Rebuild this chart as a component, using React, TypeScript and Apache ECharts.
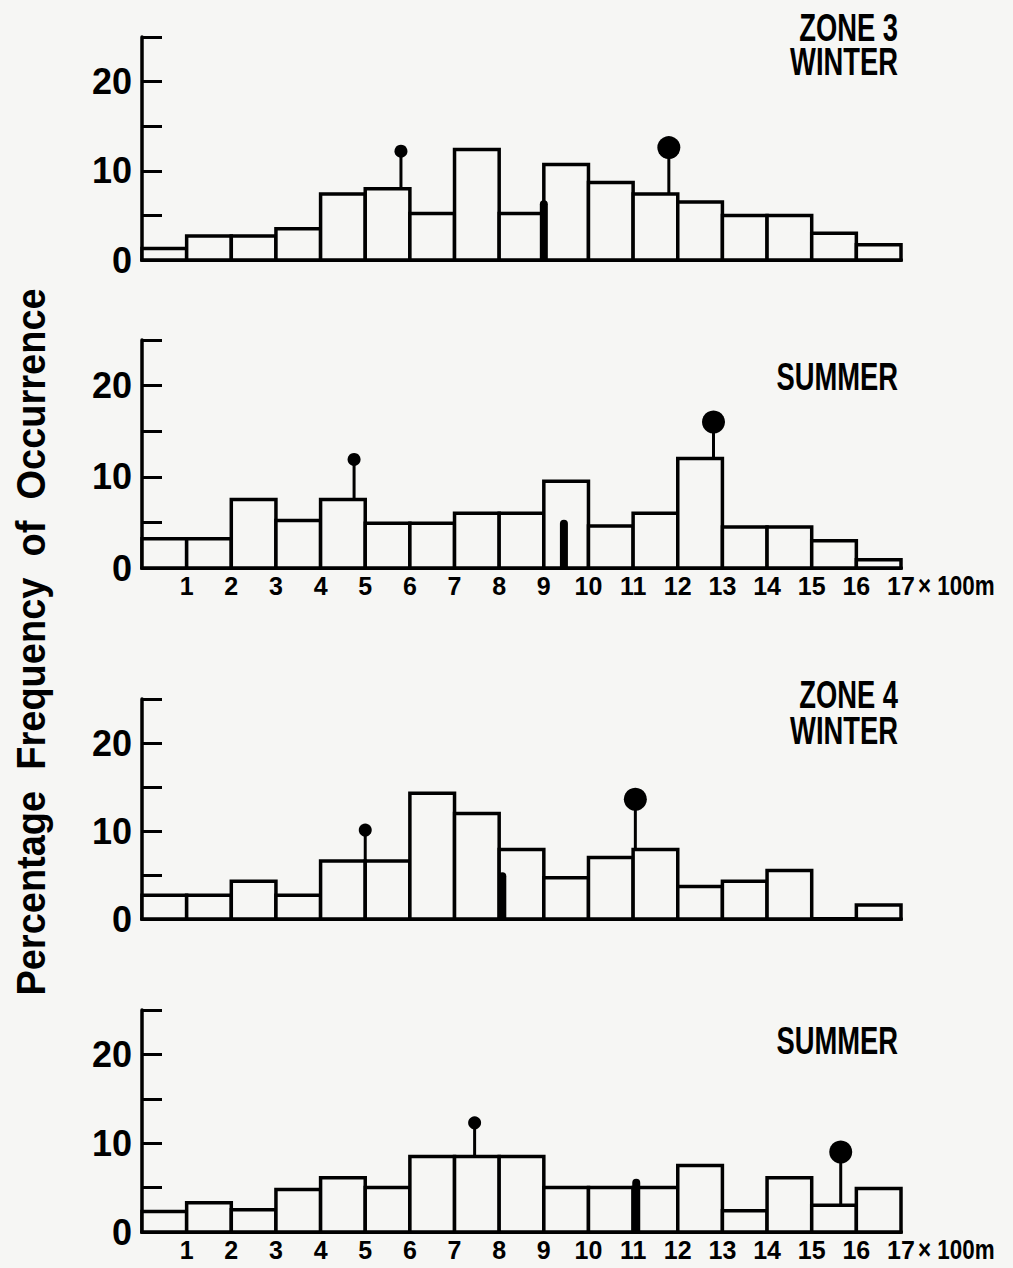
import React, { useEffect, useRef } from "react";
import * as echarts from "echarts";

// ---------- data ----------
const xTickLabels = ["1", "2", "3", "4", "5", "6", "7", "8", "9", "10", "11", "12", "13", "14", "15", "16", "17"];
const yTickLabels = ["0", "", "10", "", "20", ""]; // for 0,5,10,15,20,25

// Percentage frequency for each 100 m interval (0-1, 1-2, ... 16-17)
const zone3Winter = [1.3, 2.7, 2.7, 3.5, 7.4, 8.0, 5.2, 12.4, 5.2, 10.7, 8.7, 7.4, 6.5, 5.0, 5.0, 3.0, 1.7];
const zone3Summer = [3.2, 3.2, 7.5, 5.2, 7.5, 4.9, 4.9, 6.0, 6.0, 9.5, 4.6, 6.0, 12.0, 4.5, 4.5, 3.0, 0.9];
const zone4Winter = [2.7, 2.7, 4.3, 2.7, 6.6, 6.6, 14.3, 12.0, 7.9, 4.7, 7.0, 7.9, 3.7, 4.3, 5.5, 0, 1.6];
const zone4Summer = [2.3, 3.3, 2.5, 4.8, 6.1, 5.0, 8.5, 8.5, 8.5, 5.0, 5.0, 5.0, 7.5, 2.4, 6.1, 3.0, 4.9];

// pin markers: [x position (x100 m), value of the ball centre]
const smallPins = [[5.8, 12.2], [4.75, 11.9], [5.0, 10.1], [7.45, 12.3]];
const largePins = [[11.8, 12.6], [12.8, 16.0], [11.05, 13.6], [15.65, 9.0]];
// solid marks: [x position, height]
const solidMarks = [[9.0, 6.7], [9.45, 5.3], [8.07, 5.3], [11.07, 6.0]];

const panelTitles = [["ZONE 3", "WINTER"], ["SUMMER"], ["ZONE 4", "WINTER"], ["SUMMER"]];
const yAxisTitle = "Percentage  Frequency  of  Occurrence";
const xUnit = "× 100m";

// ---------- layout ----------
const FONT = "'Liberation Sans', Arial, sans-serif";
const BG = "#f6f6f4";
const panels = [
  { values: zone3Winter, top: 37, height: 223, showX: false, titleY: [28, 62] },
  { values: zone3Summer, top: 340, height: 228, showX: true, titleY: [377] },
  { values: zone4Winter, top: 699, height: 220, showX: false, titleY: [695, 731] },
  { values: zone4Summer, top: 1010, height: 222, showX: true, titleY: [1041] },
];
const GRID_LEFT = 142;
const GRID_WIDTH = 759;

export default function App() {
  const ref = useRef<HTMLDivElement>(null);
  useEffect(() => {
    document.body.style.margin = "0";
    if (!ref.current) return;
    const chart = echarts.init(ref.current, null, { renderer: "svg" });

    const grid: any[] = [];
    const xAxis: any[] = [];
    const yAxis: any[] = [];
    const series: any[] = [];
    const graphic: any[] = [];

    panels.forEach((p, i) => {
      grid.push({ left: GRID_LEFT, width: GRID_WIDTH, top: p.top, height: p.height, containLabel: false });
      xAxis.push({
        gridIndex: i,
        type: "value",
        min: 0,
        max: 17,
        interval: 1,
        axisLine: { show: true, lineStyle: { color: "#000", width: 4 } },
        axisTick: { show: false },
        splitLine: { show: false },
        axisLabel: {
          show: p.showX,
          margin: 5,
          color: "#000",
          fontFamily: FONT,
          fontWeight: "bold",
          fontSize: 25,
          formatter: (v: number) => (v >= 1 ? xTickLabels[v - 1] ?? "" : ""),
        },
      });
      yAxis.push({
        gridIndex: i,
        type: "value",
        min: 0,
        max: 25,
        interval: 5,
        axisLine: { show: true, lineStyle: { color: "#000", width: 3.5 } },
        axisTick: { show: true, inside: true, length: 20, lineStyle: { color: "#000", width: 3 } },
        splitLine: { show: false },
        axisLabel: {
          margin: 10,
          color: "#000",
          fontFamily: FONT,
          fontWeight: "bold",
          fontSize: 36,
          formatter: (v: number) => yTickLabels[Math.round(v / 5)] ?? "",
        },
      });

      // histogram boxes
      series.push({
        type: "custom",
        xAxisIndex: i,
        yAxisIndex: i,
        z: 2,
        data: p.values.map((v, k) => [k, v]),
        renderItem: (_params: any, api: any) => {
          const k = api.value(0);
          const v = api.value(1);
          if (!v) return null;
          const a = api.coord([k, 0]);
          const b = api.coord([k + 1, v]);
          return {
            type: "rect",
            shape: { x: a[0], y: b[1], width: b[0] - a[0], height: a[1] - b[1] },
            style: { fill: BG, stroke: "#000", lineWidth: 3.5 },
          };
        },
      });

      // pins (stem from box top to ball)
      const pinData = [
        [smallPins[i][0], p.values[Math.floor(smallPins[i][0])], smallPins[i][1], 6.5],
        [largePins[i][0], p.values[Math.floor(largePins[i][0])], largePins[i][1], 11.5],
      ];
      series.push({
        type: "custom",
        xAxisIndex: i,
        yAxisIndex: i,
        z: 3,
        data: pinData,
        renderItem: (_params: any, api: any) => {
          const x = api.value(0);
          const base = api.coord([x, api.value(1)]);
          const top = api.coord([x, api.value(2)]);
          const r = api.value(3);
          return {
            type: "group",
            children: [
              { type: "line", shape: { x1: base[0], y1: base[1], x2: top[0], y2: top[1] }, style: { stroke: "#000", lineWidth: 3 } },
              { type: "circle", shape: { cx: top[0], cy: top[1], r }, style: { fill: "#000" } },
            ],
          };
        },
      });

      // solid marks
      series.push({
        type: "custom",
        xAxisIndex: i,
        yAxisIndex: i,
        z: 4,
        data: [solidMarks[i]],
        renderItem: (_params: any, api: any) => {
          const x = api.value(0);
          const a = api.coord([x, 0]);
          const b = api.coord([x, api.value(1)]);
          return {
            type: "rect",
            shape: { x: a[0] - 4, y: b[1], width: 8, height: a[1] - b[1], r: [4, 4, 0, 0] },
            style: { fill: "#000" },
          };
        },
      });

      // titles
      panelTitles[i].forEach((t, j) => {
        graphic.push({
          type: "text",
          x: 898,
          y: p.titleY[j],
          scaleX: 0.72,
          style: {
            text: t,
            align: "right",
            verticalAlign: "middle",
            fill: "#000",
            font: `bold 38px ${FONT}`,
          },
        });
      });

      if (p.showX) {
        graphic.push({
          type: "text",
          x: 918,
          y: p.top + p.height + 17,
          scaleX: 0.8,
          style: {
            text: xUnit,
            align: "left",
            verticalAlign: "middle",
            fill: "#000",
            font: `bold 28px ${FONT}`,
          },
        });
      }
    });

    graphic.push({
      type: "text",
      x: 31,
      y: 642,
      rotation: Math.PI / 2,
      scaleX: 0.95,
      style: {
        text: yAxisTitle,
        align: "center",
        verticalAlign: "middle",
        fill: "#000",
        font: `bold 40px ${FONT}`,
      },
    });

    chart.setOption({
      animation: false,
      backgroundColor: BG,
      grid,
      xAxis,
      yAxis,
      series,
      graphic,
    });
    return () => chart.dispose();
  }, []);
  return <div ref={ref} style={{ width: 1013, height: 1268 }} />;
}
